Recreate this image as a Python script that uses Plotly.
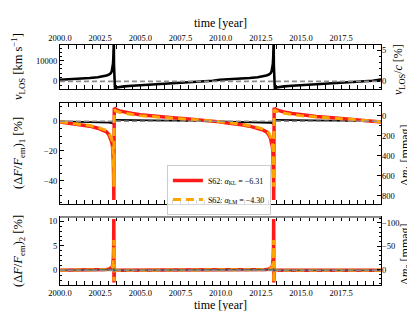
import math
import plotly.graph_objects as go

# ---------------- data ----------------
time = [2000.00, 2000.35, 2000.85, 2001.35, 2001.85, 2002.35, 2002.70, 2002.90, 2003.05, 2003.15,
        2003.22, 2003.27, 2003.30, 2003.32, 2003.34, 2003.35, 2003.36, 2003.38, 2003.42, 2003.50,
        2003.70, 2004.00, 2004.50, 2005.00, 2006.00, 2007.00, 2008.00, 2009.00, 2009.50,
        2009.95, 2010.30, 2010.80, 2011.30, 2011.80, 2012.30, 2012.65, 2012.85, 2013.00, 2013.10,
        2013.17, 2013.22, 2013.25, 2013.27, 2013.29, 2013.30, 2013.31, 2013.33, 2013.37, 2013.45,
        2013.65, 2013.95, 2014.45, 2014.95, 2015.95, 2016.95, 2017.95, 2018.95, 2019.45, 2020.00]

v_los = [800, 900, 1050, 1300, 1600, 2000, 2400, 2800, 3300, 3900,
         4800, 6300, 8500, 11500, 16000, 19000, 8000, -2500, -3200, -3000,
         -2700, -2450, -2150, -1900, -1450, -1000, -550, -50, 300,
         800, 900, 1050, 1300, 1600, 2000, 2400, 2800, 3300, 3900,
         4800, 6300, 8500, 11500, 16000, 19000, 8000, -2500, -3200, -3000,
         -2700, -2450, -2150, -1900, -1450, -1000, -550, -50, 300, 850]

dF1_black = [0.0, -0.05, -0.1, -0.2, -0.3, -0.45, -0.6, -0.7, -0.85, -1.0,
             -1.1, -1.25, -1.4, -1.6, -1.8, -2.0, 0.5, 1.0, 1.0, 1.0,
             0.95, 0.9, 0.8, 0.7, 0.55, 0.4, 0.25, 0.15, 0.05,
             0.0, -0.05, -0.1, -0.2, -0.3, -0.45, -0.6, -0.7, -0.85, -1.0,
             -1.1, -1.25, -1.4, -1.6, -1.8, -2.0, 0.5, 1.0, 1.0, 1.0,
             0.95, 0.9, 0.8, 0.7, 0.55, 0.4, 0.25, 0.15, 0.05, 0.0]

dF1_kl = [-0.4, -1.0, -1.5, -2.3, -3.3, -4.7, -6.0, -7.2, -9.2, -11.5,
          -14.0, -17.0, -21.0, -27.0, -40.0, -53.0, -20.0, 9.0, 8.5, 7.8,
          7.0, 6.2, 5.2, 4.4, 3.2, 2.4, 1.6, 0.8, 0.3,
          -0.4, -1.0, -1.5, -2.3, -3.3, -4.7, -6.0, -7.2, -9.2, -11.5,
          -14.0, -17.0, -21.0, -27.0, -40.0, -53.0, -20.0, 9.0, 8.5, 7.8,
          7.0, 6.2, 5.2, 4.4, 3.2, 2.4, 1.6, 0.8, 0.3, -0.5]

dF1_lm = [-0.3, -0.8, -1.3, -2.0, -2.9, -4.1, -5.3, -6.3, -8.0, -9.8,
          -12.0, -14.5, -18.0, -23.0, -34.0, -44.0, -17.0, 7.8, 7.4, 6.8,
          6.1, 5.4, 4.5, 3.8, 2.8, 2.0, 1.3, 0.6, 0.2,
          -0.3, -0.8, -1.3, -2.0, -2.9, -4.1, -5.3, -6.3, -8.0, -9.8,
          -12.0, -14.5, -18.0, -23.0, -34.0, -44.0, -17.0, 7.8, 7.4, 6.8,
          6.1, 5.4, 4.5, 3.8, 2.8, 2.0, 1.3, 0.6, 0.2, -0.4]

dF2_kl = [0, 0, 0, 0, 0, 0.05, 0.1, 0.15, 0.25, 0.4,
          0.6, 0.9, 1.4, 2.5, 5.0, 10.5, -2.5, -0.4, -0.1, 0,
          0, 0, 0, 0, 0, 0, 0, 0, 0,
          0, 0, 0, 0, 0, 0.05, 0.1, 0.15, 0.25, 0.4,
          0.6, 0.9, 1.4, 2.5, 5.0, 10.5, -2.5, -0.4, -0.1, 0,
          0, 0, 0, 0, 0, 0, 0, 0, 0, 0]

dF2_lm = [0, 0, 0, 0, 0, 0.05, 0.1, 0.15, 0.2, 0.35,
          0.5, 0.8, 1.2, 2.0, 3.5, 6.2, -2.2, -0.3, -0.1, 0,
          0, 0, 0, 0, 0, 0, 0, 0, 0,
          0, 0, 0, 0, 0, 0.05, 0.1, 0.15, 0.2, 0.35,
          0.5, 0.8, 1.2, 2.0, 3.5, 6.2, -2.2, -0.3, -0.1, 0,
          0, 0, 0, 0, 0, 0, 0, 0, 0, 0]

dF2_dark = [0, 0, 0, 0, 0, 0, 0, 0, 0.05, 0.08,
            0.1, 0.15, 0.2, 0.25, 0.3, 0.3, -0.2, 0, 0, 0,
            0, 0, 0, 0, 0, 0, 0, 0, 0,
            0, 0, 0, 0, 0, 0, 0, 0, 0.05, 0.08,
            0.1, 0.15, 0.2, 0.25, 0.3, 0.3, -0.2, 0, 0, 0,
            0, 0, 0, 0, 0, 0, 0, 0, 0, 0]

time_ticks = [2000.0, 2002.5, 2005.0, 2007.5, 2010.0, 2012.5, 2015.0, 2017.5]

zero_level = 0
legend_kl = "S62: <i>α</i><sub>KL</sub> = −6.31"
legend_lm = "S62: <i>α</i><sub>LM</sub> = −4.30"

x_range = [2000, 2019.98]
y_top = [-3700, 17600]
y_mid = [-55.7, 12.3]
y_bot = [-3.0, 10.9]


def mmag(f):
    return -2500 * math.log10(1 + f / 100.0)


FONT = "Liberation Serif"
RED = "#ff1a1a"
ORANGE = "#ffa500"
GRAY = "#8c8c8c"

fig = go.Figure()

# top panel
fig.add_trace(go.Scatter(x=time, y=v_los, mode="lines", line=dict(color="black", width=2.6),
                         xaxis="x3", yaxis="y3", showlegend=False))
fig.add_trace(go.Scatter(x=[], y=[], xaxis="x3", yaxis="y6", showlegend=False))

# middle panel
fig.add_trace(go.Scatter(x=time, y=dF1_black, mode="lines", line=dict(color="black", width=1.8),
                         xaxis="x2", yaxis="y2", showlegend=False))
fig.add_trace(go.Scatter(x=time, y=dF1_kl, mode="lines", line=dict(color=RED, width=3.5),
                         xaxis="x2", yaxis="y2", name=legend_kl))
fig.add_trace(go.Scatter(x=time, y=dF1_lm, mode="lines", line=dict(color=ORANGE, width=3, dash="8px,5px"),
                         xaxis="x2", yaxis="y2", name=legend_lm))
fig.add_trace(go.Scatter(x=[], y=[], xaxis="x2", yaxis="y5", showlegend=False))

# bottom panel
fig.add_trace(go.Scatter(x=time, y=dF2_kl, mode="lines", line=dict(color=RED, width=3.5),
                         xaxis="x", yaxis="y", showlegend=False))
fig.add_trace(go.Scatter(x=time, y=dF2_lm, mode="lines", line=dict(color=ORANGE, width=3, dash="8px,5px"),
                         xaxis="x", yaxis="y", showlegend=False))
fig.add_trace(go.Scatter(x=time, y=dF2_dark, mode="lines", line=dict(color="#555555", width=1.5),
                         xaxis="x", yaxis="y", showlegend=False))
fig.add_trace(go.Scatter(x=[], y=[], xaxis="x", yaxis="y4", showlegend=False))

# zero reference lines
for xr, yr in [("x3", "y3"), ("x2", "y2"), ("x", "y")]:
    fig.add_shape(type="line", xref=f"{xr} domain", yref=yr, x0=0, x1=1,
                  y0=zero_level, y1=zero_level, line=dict(color=GRAY, width=1.6, dash="5px,3px"))
# grey upper frame of the bottom panel
fig.add_shape(type="line", xref="x domain", yref="y domain", x0=0, x1=1, y0=1, y1=1,
              line=dict(color="#8a8a8a", width=2.2))

tickfont = dict(family=FONT, size=8.5, color="black")

def xax(domain_anchor, side="bottom", labels=False):
    return dict(range=x_range, anchor=domain_anchor, side=side, showline=True, linecolor="black",
                linewidth=1, mirror="allticks", ticks="inside", ticklen=4, tickwidth=0.8,
                tickcolor="black", tickvals=time_ticks, tickformat=".1f",
                showticklabels=labels, tickfont=tickfont, showgrid=False, zeroline=False,
                minor=dict(ticks="inside", ticklen=2, tick0=2000, dtick=0.5, tickcolor="black", tickwidth=0.6))

def yax(rng, domain, tickvals, minor_dtick, anchor):
    return dict(range=rng, domain=domain, anchor=anchor, showline=True, linecolor="black",
                linewidth=1, mirror=True, ticks="inside", ticklen=4, tickwidth=0.8,
                tickcolor="black", tickvals=tickvals, tickformat="d", tickfont=tickfont,
                showgrid=False, zeroline=False,
                minor=dict(ticks="inside", ticklen=2, dtick=minor_dtick, tickcolor="black", tickwidth=0.6))

def yax_r(rng, overlay, anchor, tickvals, minor_dtick):
    return dict(range=rng, overlaying=overlay, anchor=anchor, side="right", showline=False,
                ticks="inside", ticklen=4, tickwidth=0.8, tickcolor="black", tickvals=tickvals,
                tickformat="d", tickfont=tickfont, showgrid=False, zeroline=False,
                minor=dict(ticks="inside", ticklen=2, dtick=minor_dtick, tickcolor="black", tickwidth=0.6))

d_top = [0.8167, 1.0]
d_mid = [0.3375, 0.7583]
d_bot = [0.0, 0.2833]

fig.update_layout(
    width=415, height=311,
    margin=dict(l=52, r=42, t=37, b=34),
    paper_bgcolor="white", plot_bgcolor="white",
    font=dict(family=FONT, size=12, color="black"),
    xaxis=xax("y", "bottom", True),
    xaxis2=xax("y2", "bottom", False),
    xaxis3=xax("y3", "top", True),
    yaxis=yax(y_bot, d_bot, [0, 5, 10], 1, "x"),
    yaxis2=yax(y_mid, d_mid, [-40, -20, 0], 5, "x2"),
    yaxis3=yax(y_top, d_top, [0, 10000], 2000, "x3"),
    yaxis4=yax_r([mmag(y_bot[0]), mmag(y_bot[1])], "y", "x", [-100, -50, 0], 10),
    yaxis5=yax_r([mmag(y_mid[0]), mmag(y_mid[1])], "y2", "x2", [0, 200, 400, 600, 800], 100),
    yaxis6=yax_r([y_top[0] / 3000, y_top[1] / 3000], "y3", "x3", [0, 5], 1),
    legend=dict(x=0.333, y=0.5, xanchor="left", yanchor="top", bgcolor="rgba(255,255,255,0.85)",
                bordercolor="#cccccc", borderwidth=1, font=dict(family=FONT, size=8),
                itemwidth=30, tracegroupgap=0),
    showlegend=True,
)

ann = dict(xref="paper", yref="paper", showarrow=False)
def px_y(py):
    return (277 - py) / 240.0
def px_x(pxx):
    return (pxx - 52) / 321.0

tfont = dict(family=FONT, size=12)
yfont = dict(family=FONT, size=12.5)
rfont = dict(family=FONT, size=12)
fig.add_annotation(text="time [year]", x=0.5, y=px_y(15), xanchor="center", yanchor="middle", font=tfont, **ann)
fig.add_annotation(text="time [year]", x=0.5, y=px_y(297), xanchor="center", yanchor="middle", font=tfont, **ann)
fig.add_annotation(text="<i>v</i><sub>LOS</sub> [km s<sup>−1</sup>]", x=px_x(10), y=px_y(59),
                   textangle=-90, xanchor="center", yanchor="middle", font=yfont, **ann)
fig.add_annotation(text="(Δ<i>F</i>/<i>F</i><sub>em</sub>)<sub>1</sub> [%]", x=px_x(11), y=px_y(145),
                   textangle=-90, xanchor="center", yanchor="middle", font=yfont, **ann)
fig.add_annotation(text="(Δ<i>F</i>/<i>F</i><sub>em</sub>)<sub>2</sub> [%]", x=px_x(11), y=px_y(243),
                   textangle=-90, xanchor="center", yanchor="middle", font=yfont, **ann)
fig.add_annotation(text="<i>v</i><sub>LOS</sub>/<i>c</i> [%]", x=px_x(391), y=px_y(62),
                   textangle=-90, xanchor="center", yanchor="middle", font=rfont, **ann)
fig.add_annotation(text="Δ<i>m</i><sub>1</sub> [mmag]", x=px_x(398), y=px_y(147),
                   textangle=-90, xanchor="center", yanchor="middle", font=rfont, **ann)
fig.add_annotation(text="Δ<i>m</i><sub>2</sub> [mmag]", x=px_x(398), y=px_y(246),
                   textangle=-90, xanchor="center", yanchor="middle", font=rfont, **ann)

fig.write_html("out.html")
